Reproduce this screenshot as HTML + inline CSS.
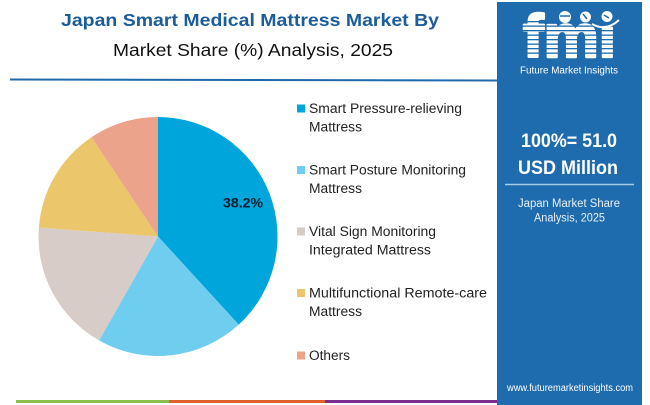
<!DOCTYPE html>
<html>
<head>
<meta charset="utf-8">
<style>
html,body{margin:0;padding:0;background:#fff;}
svg{display:block;}
text{font-family:"Liberation Sans",sans-serif;}
</style>
</head>
<body>
<svg width="650" height="405" viewBox="0 0 650 405" xmlns="http://www.w3.org/2000/svg">
<rect width="650" height="405" fill="#fff"/>
<!-- Title -->
<text x="250" y="26" text-anchor="middle" font-size="17.5" font-weight="bold" fill="#1b5c9a" textLength="378" lengthAdjust="spacingAndGlyphs">Japan Smart Medical Mattress Market By</text>
<text x="253" y="56" text-anchor="middle" font-size="17.5" fill="#111" textLength="280" lengthAdjust="spacingAndGlyphs">Market Share (%) Analysis, 2025</text>
<line x1="10" y1="79.5" x2="500" y2="80.5" stroke="#1f6aac" stroke-width="2"/>

<!-- Pie -->
<path d="M158,236.5 L158,117 A119.5,119.5 0 0 1 238.71,324.63 Z" fill="#00a5dc"/>
<path d="M158,236.5 L238.71,324.63 A119.5,119.5 0 0 1 99.12,340.49 Z" fill="#6fcdf0"/>
<path d="M158,236.5 L99.12,340.49 A119.5,119.5 0 0 1 38.84,227.5 Z" fill="#d7ccc8"/>
<path d="M158,236.5 L38.84,227.5 A119.5,119.5 0 0 1 91.46,137.23 Z" fill="#ebc66b"/>
<path d="M158,236.5 L91.46,137.23 A119.5,119.5 0 0 1 158,117 Z" fill="#eba38b"/>
<text x="243" y="207.5" text-anchor="middle" font-size="14" font-weight="bold" fill="#0e1e2e" textLength="40" lengthAdjust="spacingAndGlyphs">38.2%</text>

<!-- Legend -->
<g font-size="13.5" fill="#222">
<rect x="297" y="104.5" width="8" height="8" fill="#00a5dc"/>
<text x="309" y="113" textLength="153" lengthAdjust="spacingAndGlyphs">Smart Pressure-relieving</text>
<text x="309" y="131.5" textLength="53" lengthAdjust="spacingAndGlyphs">Mattress</text>

<rect x="297" y="166" width="8" height="8" fill="#6fcdf0"/>
<text x="309" y="174.5" textLength="157" lengthAdjust="spacingAndGlyphs">Smart Posture Monitoring</text>
<text x="309" y="193" textLength="53" lengthAdjust="spacingAndGlyphs">Mattress</text>

<rect x="297" y="227.5" width="8" height="8" fill="#d7ccc8"/>
<text x="309" y="236" textLength="127" lengthAdjust="spacingAndGlyphs">Vital Sign Monitoring</text>
<text x="309" y="254.5" textLength="122" lengthAdjust="spacingAndGlyphs">Integrated Mattress</text>

<rect x="297" y="289" width="8" height="8" fill="#ebc66b"/>
<text x="309" y="297.5" textLength="178" lengthAdjust="spacingAndGlyphs">Multifunctional Remote-care</text>
<text x="309" y="316" textLength="53" lengthAdjust="spacingAndGlyphs">Mattress</text>

<rect x="297" y="351.5" width="8" height="8" fill="#eba38b"/>
<text x="309" y="360" textLength="41" lengthAdjust="spacingAndGlyphs">Others</text>
</g>

<!-- Bottom bars -->
<rect x="16" y="400" width="153" height="3" fill="#8cc04b"/>
<rect x="169" y="400" width="156" height="3" fill="#e0602e"/>
<rect x="325" y="400" width="175" height="3" fill="#7b2d8e"/>

<!-- Sidebar -->
<rect x="497" y="2" width="145" height="403" fill="#1e6bad"/>
<!-- Logo -->
<text x="523" y="57" font-family="Liberation Serif" font-size="60" font-weight="bold" fill="#fff" stroke="#fff" stroke-width="2.5" stroke-linejoin="round" textLength="93" lengthAdjust="spacingAndGlyphs">fmi</text>
<g fill="#1e6bad">
<rect x="515" y="21" width="110" height="1.3"/>
<rect x="515" y="25.5" width="110" height="1.3"/>
<rect x="515" y="30" width="110" height="1.3"/>
<rect x="515" y="34.5" width="110" height="1.3"/>
<rect x="515" y="39" width="110" height="1.3"/>
<rect x="515" y="43.5" width="110" height="1.3"/>
<rect x="515" y="48" width="110" height="1.3"/>
<rect x="515" y="52.5" width="110" height="1.3"/>
<rect x="598" y="6" width="24" height="20"/>
</g>
<circle cx="565" cy="17" r="6" fill="#fff"/>
<circle cx="585.5" cy="17" r="5.5" fill="#fff"/>
<circle cx="607" cy="16.5" r="5.5" fill="#fff"/>
<path d="M560,16 h10 M583,14 l4,5 M604,15 l5,3" stroke="#1e6bad" stroke-width="1.5"/>
<path d="M592,24 Q606,32 619,20" stroke="#fff" stroke-width="2" fill="none"/>
<text x="569" y="73.5" text-anchor="middle" font-size="10" fill="#fff" textLength="98" lengthAdjust="spacingAndGlyphs">Future Market Insights</text>

<text x="569" y="147" text-anchor="middle" font-size="19.5" font-weight="bold" fill="#fff" textLength="96" lengthAdjust="spacingAndGlyphs">100%= 51.0</text>
<text x="568" y="174" text-anchor="middle" font-size="19.5" font-weight="bold" fill="#fff" textLength="100" lengthAdjust="spacingAndGlyphs">USD Million</text>
<line x1="505" y1="184.5" x2="634" y2="184.5" stroke="#a9cbe6" stroke-width="1.5"/>
<text x="569" y="207" text-anchor="middle" font-size="11.5" fill="#e6f0f8" textLength="102" lengthAdjust="spacingAndGlyphs">Japan Market Share</text>
<text x="569.5" y="221.5" text-anchor="middle" font-size="11.5" fill="#e6f0f8" textLength="71" lengthAdjust="spacingAndGlyphs">Analysis, 2025</text>
<text x="570" y="391" text-anchor="middle" font-size="10" fill="#fff" textLength="126" lengthAdjust="spacingAndGlyphs">www.futuremarketinsights.com</text>
</svg>
</body>
</html>
